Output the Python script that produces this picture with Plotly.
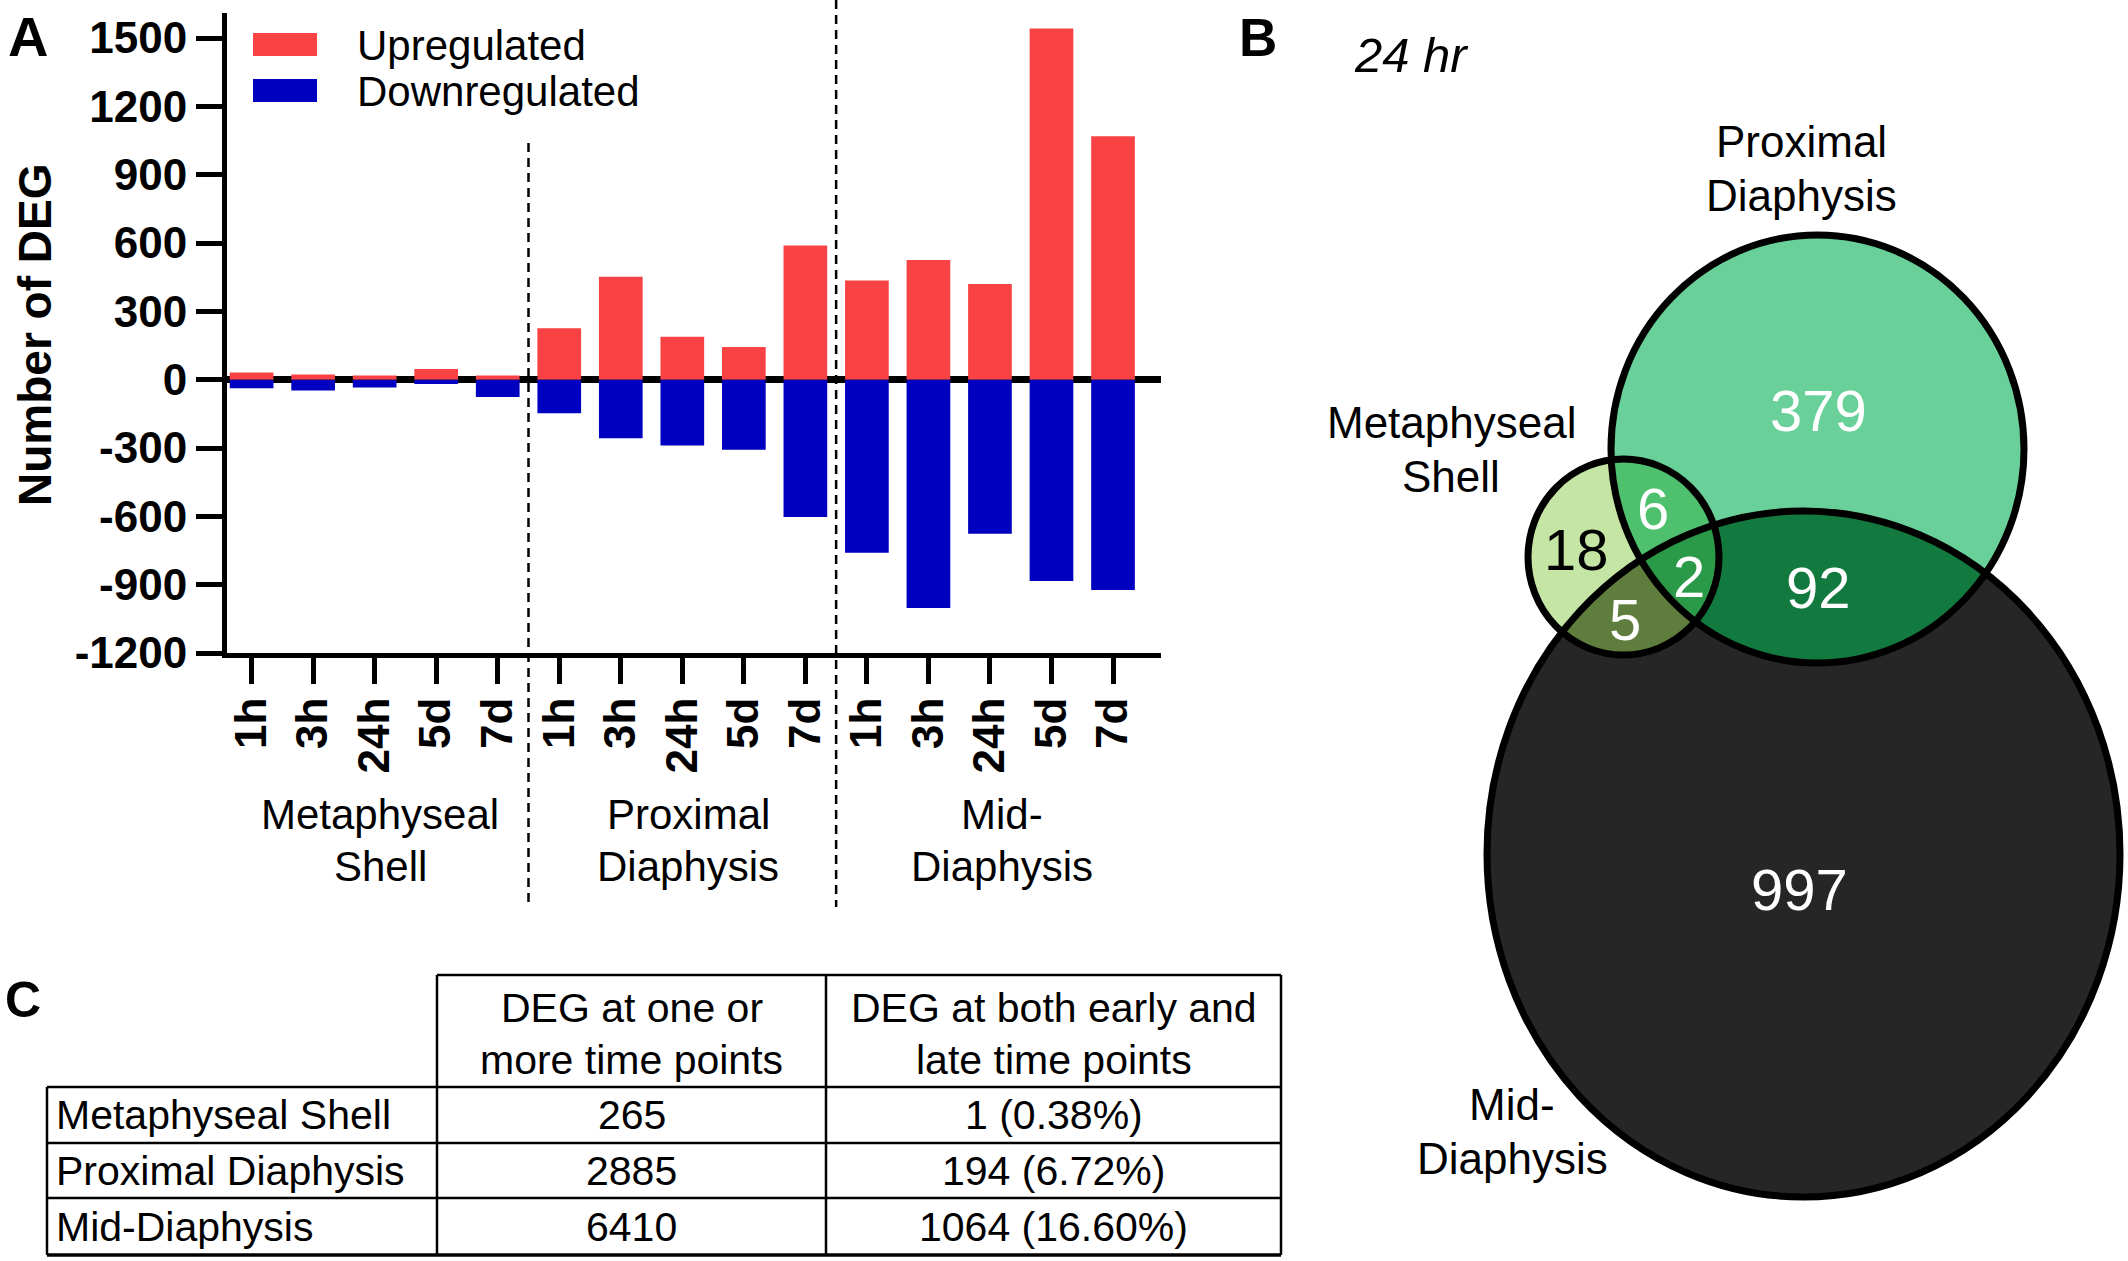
import numpy as np
import plotly.graph_objects as go

W, H = 2128, 1261
FONT = "Liberation Sans, Arial, sans-serif"

# ---------------- data ----------------
regions = ["Metaphyseal Shell", "Proximal Diaphysis", "Mid-Diaphysis"]
region_axis_labels = [["Metaphyseal", "Shell"], ["Proximal", "Diaphysis"], ["Mid-", "Diaphysis"]]
timepoints = ["1h", "3h", "24h", "5d", "7d"]
up_meta = [32, 23, 18, 47, 18]
down_meta = [-38, -48, -34, -19, -76]
up_prox = [226, 452, 189, 143, 589]
down_prox = [-147, -257, -289, -308, -603]
up_mid = [436, 525, 420, 1542, 1069]
down_mid = [-760, -1002, -676, -884, -923]
y_ticks = [-1200, -900, -600, -300, 0, 300, 600, 900, 1200, 1500]
y_ticktext = ["-1200", "-900", "-600", "-300", "0", "300", "600", "900", "1200", "1500"]

venn_title = "24 hr"
venn_sets = [["Metaphyseal", "Shell"], ["Proximal", "Diaphysis"], ["Mid-", "Diaphysis"]]
venn_counts = {"meta": 18, "prox": 379, "mid": 997, "meta_prox": 6,
               "meta_mid": 5, "prox_mid": 92, "all": 2}

table_header = [["DEG at one or", "more time points"], ["DEG at both early and", "late time points"]]
table_rows = ["Metaphyseal Shell", "Proximal Diaphysis", "Mid-Diaphysis"]
table_col1 = ["265", "2885", "6410"]
table_col2 = ["1 (0.38%)", "194 (6.72%)", "1064 (16.60%)"]

# ---------------- styles ----------------
RED = "#F84243"
BLUE = "#0000C0"

up_all = up_meta + up_prox + up_mid
down_all = down_meta + down_prox + down_mid
xpos = list(range(len(up_all)))
ticktext = timepoints * len(regions)

fig = go.Figure()
fig.add_trace(go.Bar(x=xpos, y=up_all, name="Upregulated", marker_color=RED,
                     marker_line_width=0, width=0.71))
fig.add_trace(go.Bar(x=xpos, y=down_all, name="Downregulated", marker_color=BLUE,
                     marker_line_width=0, width=0.71))


def px_x(v):
    return v / W


def px_y(v):
    return 1 - v / H


fig.update_layout(
    width=W, height=H,
    margin=dict(l=0, r=0, t=0, b=0),
    paper_bgcolor="white", plot_bgcolor="rgba(0,0,0,0)",
    barmode="relative",
    showlegend=False,
    font=dict(family=FONT, color="black"),
    xaxis=dict(domain=[px_x(227), px_x(1161)], range=[-0.40, 14.78],
               tickvals=xpos, ticktext=ticktext, tickangle=-90,
               ticks="outside", ticklen=26, tickwidth=5, tickcolor="black",
               showline=True, linewidth=5, linecolor="black",
               showgrid=False, zeroline=False, ticklabelstandoff=-4,
               tickfont=dict(family=FONT, size=44, color="black", weight="bold"),
               layer="above traces", automargin=False, anchor="y"),
    yaxis=dict(domain=[px_y(653), px_y(13)], range=[-1200, 1610],
               tickvals=y_ticks, ticktext=y_ticktext,
               ticks="outside", ticklen=26, tickwidth=5, tickcolor="black",
               showline=True, linewidth=5, linecolor="black",
               showgrid=False, zeroline=True, zerolinewidth=7, zerolinecolor="black",
               tickfont=dict(family=FONT, size=44, color="black", weight="bold"),
               layer="above traces", automargin=False, anchor="x"),
    # pixel overlay axes for the rest of the figure
    xaxis2=dict(domain=[0, 1], range=[0, W], visible=False, anchor="y2", fixedrange=True),
    yaxis2=dict(domain=[0, 1], range=[H, 0], visible=False, anchor="x2", fixedrange=True),
)

shapes = []
annotations = []


def text(x, y, s, size, bold=False, italic=False, color="black", xanchor="center", angle=0):
    annotations.append(dict(x=x, y=y, xref="x2", yref="y2", text=s, showarrow=False,
                            xanchor=xanchor, yanchor="middle", textangle=angle,
                            font=dict(family=FONT, size=size, color=color,
                                      weight="bold" if bold else "normal",
                                      style="italic" if italic else "normal")))


# ---------- Panel A extras ----------
text(28, 36, "A", 56, bold=True)
annotations.append(dict(x=35, y=335, xref="x2", yref="y2", text="Number of DEG", showarrow=False,
                        textangle=-90, xanchor="center", yanchor="middle",
                        font=dict(family=FONT, size=46, color="black", weight="bold")))
# legend
for i, (tr, col) in enumerate(zip(fig.data, [RED, BLUE])):
    y0 = [33, 79][i]
    shapes.append(dict(type="rect", xref="x2", yref="y2", x0=253, x1=317, y0=y0, y1=y0 + 23,
                       fillcolor=col, line=dict(width=0)))
    text(355, y0 + 12, tr.name, 42, xanchor="left")
# dashed separators between region groups
for k, ytop in zip([1, 2], [143, 0]):
    xs = k * len(timepoints) - 0.5
    shapes.append(dict(type="line", xref="x", yref="y2", x0=xs, x1=xs, y0=ytop, y1=907,
                       line=dict(color="black", width=2.5, dash="9px,6px")))
# group labels
group_x = [380, 688, 1002]
for gx, lines in zip(group_x, region_axis_labels):
    text(gx, 814, lines[0], 42)
    text(gx, 866, lines[1], 42)

# ---------- Panel B: Venn ----------
text(1258, 37, "B", 53, bold=True)
text(1411, 55, venn_title, 49, italic=True)

E_meta = (1528, 459, 1719, 655)
E_prox = (1611, 235, 2024, 663)
E_mid = (1487, 511, 2120, 1197)


def ellipse(b, n=400):
    x0, y0, x1, y1 = b
    cx, cy, rx, ry = (x0 + x1) / 2, (y0 + y1) / 2, (x1 - x0) / 2, (y1 - y0) / 2
    t = np.linspace(0, 2 * np.pi, n, endpoint=False)
    return list(zip(cx + rx * np.cos(t), cy + ry * np.sin(t)))


def area(p):
    s = 0
    for i in range(len(p)):
        x1, y1 = p[i]
        x2, y2 = p[(i + 1) % len(p)]
        s += x1 * y2 - x2 * y1
    return s / 2


def clip(subject, clipper):
    sign = 1 if area(clipper) > 0 else -1

    def inside(p, a, b):
        return sign * ((b[0] - a[0]) * (p[1] - a[1]) - (b[1] - a[1]) * (p[0] - a[0])) >= 0

    def inter(p, q, a, b):
        x1, y1 = p; x2, y2 = q; x3, y3 = a; x4, y4 = b
        d = (x1 - x2) * (y3 - y4) - (y1 - y2) * (x3 - x4)
        if abs(d) < 1e-12:
            return q
        t = ((x1 - x3) * (y3 - y4) - (y1 - y3) * (x3 - x4)) / d
        return (x1 + t * (x2 - x1), y1 + t * (y2 - y1))

    out = subject
    for i in range(len(clipper)):
        a, b = clipper[i], clipper[(i + 1) % len(clipper)]
        inp = out
        out = []
        if not inp:
            break
        s = inp[-1]
        for e in inp:
            if inside(e, a, b):
                if not inside(s, a, b):
                    out.append(inter(s, e, a, b))
                out.append(e)
            elif inside(s, a, b):
                out.append(inter(s, e, a, b))
            s = e
    return out


def path(poly):
    return "M " + " L ".join(f"{x:.1f},{y:.1f}" for x, y in poly) + " Z"


P_meta, P_prox, P_mid = ellipse(E_meta), ellipse(E_prox), ellipse(E_mid)
regions_fill = [
    (P_mid, "#262626"),
    (P_prox, "#68D098"),
    (P_meta, "#C5E5A5"),
    (clip(P_prox, P_mid), "#127A3E"),
    (clip(P_meta, P_prox), "#4EC06E"),
    (clip(P_meta, P_mid), "#5F7D3C"),
    (clip(clip(P_meta, P_prox), P_mid), "#2A9A48"),
]
for poly, col in regions_fill:
    shapes.append(dict(type="path", xref="x2", yref="y2", path=path(poly),
                       fillcolor=col, line=dict(width=0)))
for b in (E_mid, E_prox, E_meta):
    shapes.append(dict(type="circle", xref="x2", yref="y2", x0=b[0], y0=b[1], x1=b[2], y1=b[3],
                       line=dict(color="black", width=7), fillcolor="rgba(0,0,0,0)"))

count_pos = {"prox": (1818, 410, "white"), "meta_prox": (1653, 508, "white"),
             "meta": (1576, 549, "black"), "all": (1689, 576, "white"),
             "prox_mid": (1818, 587, "white"), "meta_mid": (1625, 619, "white"),
             "mid": (1799, 889, "white")}
for key, (cx, cy, col) in count_pos.items():
    text(cx, cy, str(venn_counts[key]), 58, color=col)

set_label_pos = [(1451, 422), (1801, 141), (1512, 1104)]
for (lx, ly), lines in zip(set_label_pos, venn_sets):
    text(lx, ly, lines[0], 44)
    text(lx, ly + 54, lines[1], 44)

# ---------- Panel C: table ----------
text(23, 1000, "C", 50, bold=True)
cols = [47, 437, 826, 1281]
rows_y = [975, 1087, 1143, 1198, 1255]
LW = 2.5


def hline(y, x0, x1, w=LW):
    shapes.append(dict(type="line", xref="x2", yref="y2", x0=x0, x1=x1, y0=y, y1=y,
                       line=dict(color="black", width=w)))


def vline(x, y0, y1, w=LW):
    shapes.append(dict(type="line", xref="x2", yref="y2", x0=x, x1=x, y0=y0, y1=y1,
                       line=dict(color="black", width=w)))


hline(rows_y[0], cols[1], cols[3])
for y in rows_y[1:]:
    hline(y, cols[0], cols[3], w=LW if y != rows_y[-1] else 3.5)
vline(cols[0], rows_y[1], rows_y[-1])
for x in cols[1:]:
    vline(x, rows_y[0], rows_y[-1])

c1 = (cols[1] + cols[2]) / 2
c2 = (cols[2] + cols[3]) / 2
for cx, lines in zip([c1, c2], table_header):
    text(cx, 1008, lines[0], 41)
    text(cx, 1060, lines[1], 41)
for i, (lab, v1, v2) in enumerate(zip(table_rows, table_col1, table_col2)):
    yc = (rows_y[i + 1] + rows_y[i + 2]) / 2
    text(cols[0] + 7, yc, lab, 41, xanchor="left")
    text(c1, yc, v1, 41)
    text(c2, yc, v2, 41)

fig.update_layout(shapes=shapes, annotations=annotations)
fig.write_html("out.html", config={"displayModeBar": False},
               post_script="document.body.style.margin='0';document.body.style.overflow='hidden';")
